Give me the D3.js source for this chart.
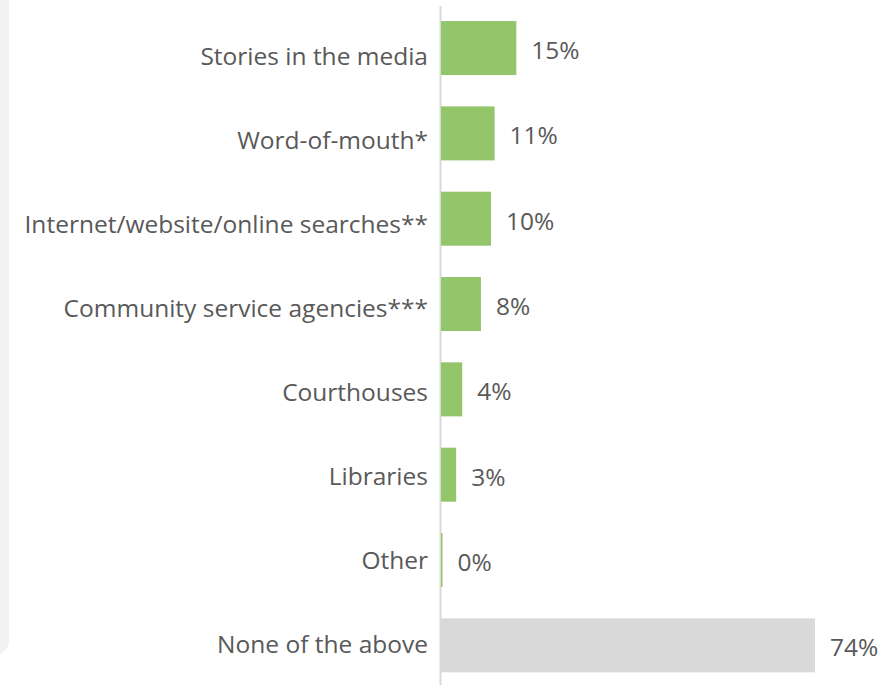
<!DOCTYPE html>
<html><head><meta charset="utf-8">
<script src="https://cdn.jsdelivr.net/npm/d3@7"></script>
<style>
html,body{margin:0;padding:0;background:#fff;}
svg{display:block;}
text{font-family:"Segoe UI","Open Sans","Noto Sans",sans-serif;font-weight:400;fill:#595959;}
</style></head>
<body><svg id="c" width="882" height="685"></svg>
<script>
const categories = ["Stories in the media","Word-of-mouth*","Internet/website/online searches**","Community service agencies***","Courthouses","Libraries","Other","None of the above"];
const values = [14.9,10.6,9.9,7.9,4.2,3.0,0.3,74];
const valueLabels = ["15%","11%","10%","8%","4%","3%","0%","74%"];
const barColors = ["#93c56b","#93c56b","#93c56b","#93c56b","#93c56b","#93c56b","#93c56b","#d9d9d9"];

const svg = d3.select("#c");
// left panel strip
svg.append("path").attr("fill","#f2f2f2")
  .attr("d","M0,0 H9 V640 A16,16 0 0 1 -7,656 H0 Z");

const x = d3.scaleLinear().domain([0,74]).range([441,815]);
const y = d3.scaleBand().domain(categories).range([5.4,688]).paddingInner(0.367).paddingOuter(0.1835);
const yl = d3.scalePoint().domain(categories).range([56,644]);

svg.append("line").attr("x1",440.5).attr("x2",440.5).attr("y1",6).attr("y2",685)
  .attr("stroke","#d9d9d9").attr("stroke-width",2);

const data = categories.map((c,i)=>({c,v:values[i],l:valueLabels[i],col:barColors[i]}));
svg.selectAll("rect.bar").data(data).join("rect").attr("class","bar")
  .attr("x",x(0)).attr("y",d=>y(d.c)).attr("width",d=>Math.max(1,x(d.v)-x(0))).attr("height",y.bandwidth())
  .attr("fill",d=>d.col);

svg.selectAll("text.cat").data(data).join("text").attr("class","cat")
  .attr("x",428).attr("y",d=>yl(d.c)).attr("dy","0.35em").attr("text-anchor","end")
  .style("font-size","24.5px").text(d=>d.c);

svg.selectAll("text.val").data(data).join("text").attr("class","val")
  .attr("x",d=>Math.max(x(d.v),x(0)+1)+15).attr("y",d=>y(d.c)+y.bandwidth()/2+2.5).attr("dy","0.35em")
  .style("font-size","24.5px").text(d=>d.l);
</script></body></html>
